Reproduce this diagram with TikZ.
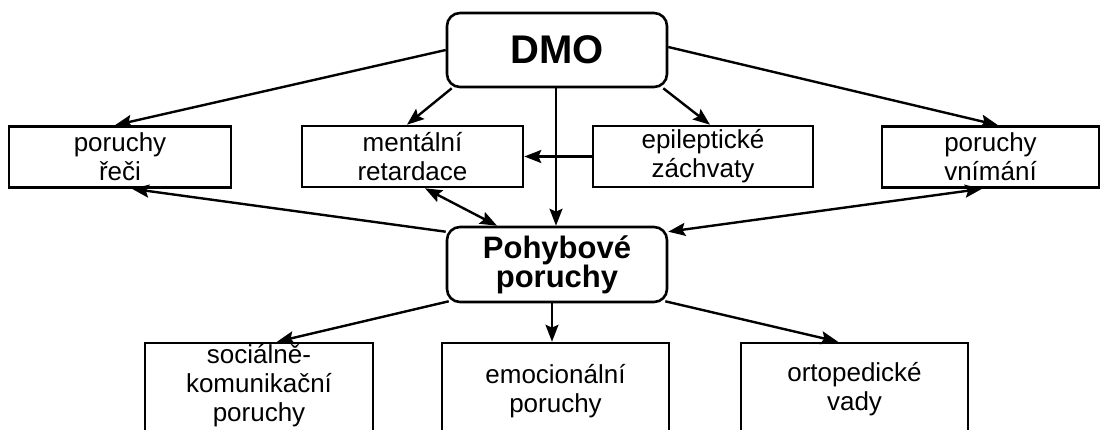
\documentclass[tikz,border=0pt]{standalone}
\usepackage{fontspec}
\setmainfont{Liberation Sans}
\usetikzlibrary{arrows.meta,calc}
\tikzset{
  box/.style={draw, line width=2.6pt, inner sep=0pt, align=center,
    font=\fontsize{26}{29}\selectfont},
  mainbox/.style={box, rounded corners=13pt, font=\bfseries\fontsize{31}{29}\selectfont},
  txt/.style={inner sep=0pt, align=center, font=\fontsize{26}{29}\selectfont},
  tip/.style={Stealth[length=17pt,width=13pt,inset=3pt]},
  conn/.style={line width=2.4pt, -{Stealth[length=17pt,width=13pt,inset=3pt]}},
  dconn/.style={line width=2.4pt, {Stealth[length=17pt,width=13pt,inset=3pt]}-{Stealth[length=17pt,width=13pt,inset=3pt]}}
}
\begin{document}
\begin{tikzpicture}[x=1pt,y=-1pt]
\clip (0,0) rectangle (1101,429);
\fill[white] (0,0) rectangle (1101,429);
% top row
\node[mainbox, minimum width=220pt, minimum height=74pt, font=\bfseries\fontsize{40}{40}\selectfont] (dmo) at (557,50) {DMO};
\node[box, minimum width=222pt, minimum height=61pt] (rec) at (120,157) {poruchy\\řeči};
\node[box, minimum width=221pt, minimum height=61pt] (men) at (412.5,156.5) {mentální\\retardace};
\node[box, minimum width=220pt, minimum height=61pt] (epi) at (703,156.5) {epileptické\\záchvaty};
\node[box, minimum width=217pt, minimum height=61pt] (vni) at (990.5,157) {poruchy\\vnímání};
% middle
\node[mainbox, minimum width=220pt, minimum height=75pt] (poh) at (557,264.5) {Pohybové\\poruchy};
% bottom row (boxes run past the lower edge)
\node[box, minimum width=228pt, minimum height=100pt] (soc) at (259,393) {};
\node[box, minimum width=227pt, minimum height=100pt] (emo) at (555.5,393) {};
\node[box, minimum width=227pt, minimum height=100pt] (ort) at (854.5,393) {};
\node[txt] (soct) at (259,386) {sociálně-\\komunikační\\poruchy};
\node[txt] (emot) at (555.5,391) {emocionální\\poruchy};
\node[txt] (ortt) at (854.5,389) {ortopedické\\vady};
% connectors from DMO
\draw[conn] (dmo.west) -- ([xshift=-5pt]rec.north);
\draw[conn] ([xshift=6pt]dmo.south west) -- ([xshift=-5.5pt]men.north);
\draw[conn] ([xshift=-1pt]dmo.south) -- ([xshift=-1pt]poh.north);
\draw[conn] ([xshift=-5pt]dmo.south east) -- ([xshift=7pt]epi.north);
\draw[conn] ([yshift=3pt]dmo.east) -- ([xshift=7.5pt]vni.north);
\draw[conn] (epi.west) -- (men.east);
% connectors around Pohybove poruchy
\draw[dconn] ([xshift=12.5pt]men.south) -- ([xshift=-60pt]poh.north);
\draw[conn] ([yshift=-6pt]poh.north west) -- ([xshift=12pt]rec.south);
\draw[dconn] ([xshift=-8.5pt]vni.south) -- ([yshift=-6pt]poh.north east);
\draw[conn] ([xshift=3pt,yshift=2pt]poh.south west) -- ([xshift=18pt]soc.north);
\draw[conn] ([xshift=-5pt]poh.south) -- ([xshift=-3.5pt]emo.north);
\draw[conn] ([xshift=-3pt,yshift=2pt]poh.south east) -- ([xshift=-16.5pt]ort.north);
\end{tikzpicture}
\end{document}
